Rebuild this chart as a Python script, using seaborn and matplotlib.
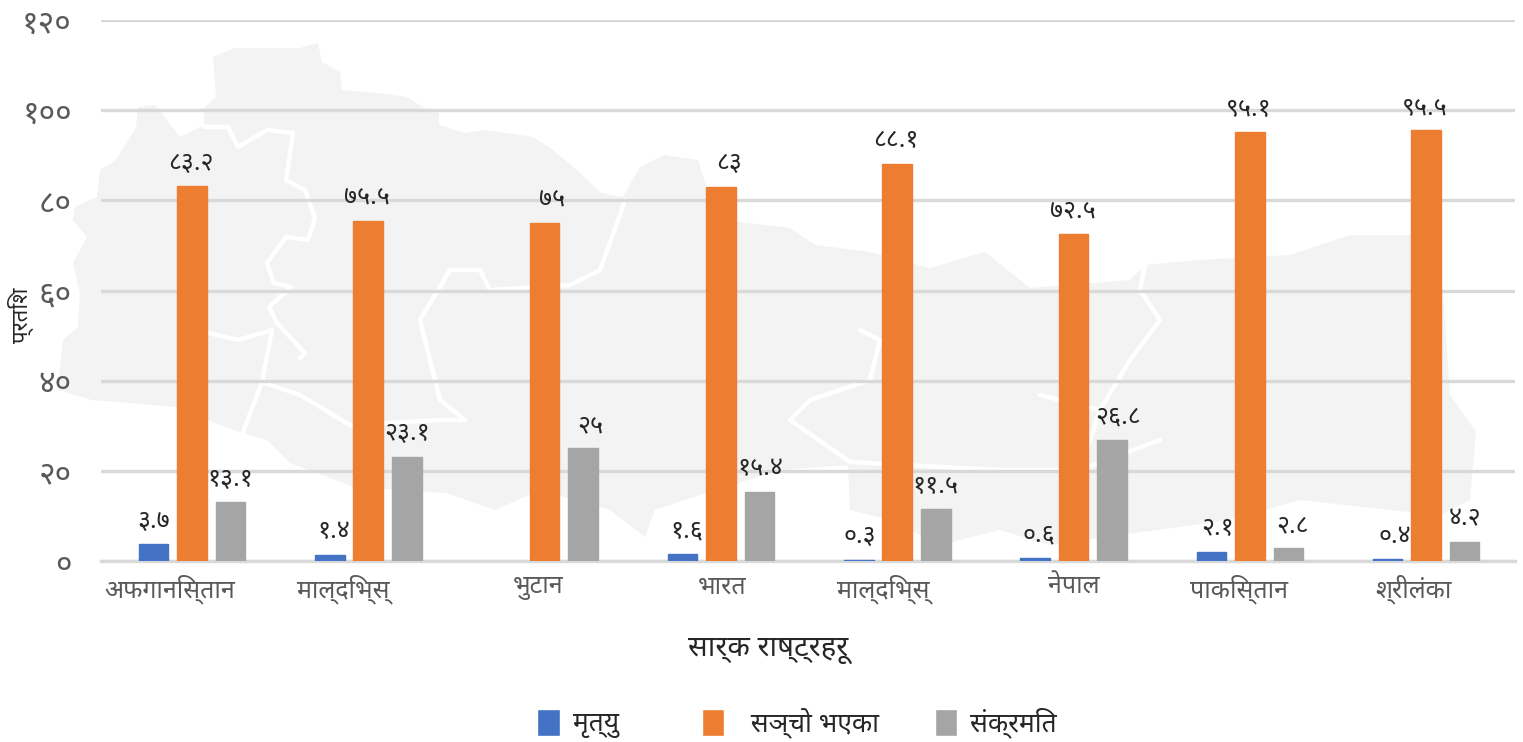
import numpy as np
import pandas as pd
import matplotlib
matplotlib.use('Agg')
import matplotlib.pyplot as plt
from matplotlib.patches import Polygon
import seaborn as sns

# Dados
paises = ['अफगानिस्तान', 'माल्दिभ्स्', 'भुटान', 'भारत', 'माल्दिभ्स्', 'नेपाल', 'पाकिस्तान', 'श्रीलंका']
mrityu = [3.7, 1.4, np.nan, 1.6, 0.3, 0.6, 2.1, 0.4]
sancho = [83.2, 75.5, 75, 83, 88.1, 72.5, 95.1, 95.5]
sankramit = [13.1, 23.1, 25, 15.4, 11.5, 26.8, 2.8, 4.2]
rotulos_mrityu = ['३.७', '१.४', '', '१.६', '०.३', '०.६', '२.१', '०.४']
rotulos_sancho = ['८३.२', '७५.५', '७५', '८३', '८८.१', '७२.५', '९५.१', '९५.५']
rotulos_sankramit = ['१३.१', '२३.१', '२५', '१५.४', '११.५', '२६.८', '२.८', '४.२']
serie_nomes = ['मृत्यु', 'सञ्चो भएका', 'संक्रमित']
legenda_txt = ['मृत्यु    ', '  सञ्चो भएका', 'संक्रमित']
cores = ['#4472C4', '#ED7D31', '#A5A5A5']
yticks_lbl = ['०', '२०', '४०', '६०', '८०', '१००', '१२०']

# Ajustes finos de layout (pixels)
dx_rotulos = [[0, 4, 0, 4, 1, 4, 6, 7],
              [-1, -1, 7, 8, -1, -1, -1, -1],
              [0, 0, 7, 1, 0, 6, 4, 0]]
desloc_xticks = [-22, -25, -6, 1, -14, 0, -11, -13]

# Silhueta do mapa de fundo (pixels da imagem)
mapa = [(213, 57), (235, 48), (265, 48), (300, 48), (318, 43), (322, 62), (340, 72), (342, 90), (378, 93),
        (407, 97), (424, 108), (439, 113), (439, 125), (465, 133), (485, 130), (533, 137), (553, 150),
        (577, 170), (601, 193), (623, 197), (640, 167), (664, 155), (698, 160), (715, 215), (740, 222),
        (790, 228), (815, 245), (870, 252), (930, 268), (985, 252), (1030, 288), (1130, 280), (1145, 265),
        (1200, 260), (1290, 255), (1350, 235), (1415, 235), (1440, 250), (1450, 395), (1476, 432),
        (1470, 500), (1440, 515), (1390, 510), (1300, 500), (1230, 520), (1120, 535), (1050, 545), (1000, 530),
        (940, 545), (890, 520), (850, 510), (848, 465), (780, 470), (700, 495), (655, 510), (645, 537),
        (610, 510), (540, 490), (495, 510), (446, 493), (354, 487), (290, 463), (267, 440), (233, 430),
        (175, 407), (131, 403), (92, 400), (58, 390), (60, 367), (63, 340), (78, 327), (80, 293), (73, 263),
        (87, 237), (73, 220), (75, 207), (97, 197), (100, 170), (116, 160), (136, 128), (138, 107),
        (155, 105), (180, 137), (204, 125), (204, 108), (216, 97)]
fronteiras = [
    [(204, 127), (228, 127), (238, 147), (267, 130), (293, 133), (286, 180), (305, 190), (315, 218), (308, 240),
     (286, 237), (267, 263), (274, 283), (291, 287), (269, 307), (277, 323), (305, 353), (300, 358)],
    [(208, 333), (238, 340), (272, 330), (262, 382), (240, 440)],
    [(262, 382), (300, 395), (350, 425), (440, 420), (465, 420)],
    [(625, 200), (620, 215), (600, 270), (570, 285), (490, 290), (480, 270), (450, 270), (420, 320), (440, 400), (465, 420)],
    [(860, 330), (880, 340), (870, 380), (810, 400), (790, 420), (850, 462), (1000, 470), (1080, 470), (1160, 440)],
    [(1100, 410), (1130, 360), (1160, 320), (1140, 290), (1145, 265)],
    [(1080, 470), (1100, 410), (1040, 395)],
]

df = pd.DataFrame({
    'pos': list(range(len(paises))) * 3,
    'valor': mrityu + sancho + sankramit,
    'serie': np.repeat(serie_nomes, len(paises)),
})

sns.set_theme(style='white')
plt.rcParams['font.family'] = ['Noto Sans Devanagari', 'Mukta', 'Hind', 'Annapurna SIL', 'DejaVu Sans']

L, H = 1523, 742
fig = plt.figure(figsize=(L / 100, H / 100), dpi=100)
ax = fig.add_axes([101 / L, 1 - 561 / H, (1515 - 101) / L, (561 - 20) / H])
ax.patch.set_alpha(0)

def px(pontos):
    return [(x / L, 1 - y / H) for x, y in pontos]

# mapa de fundo
fig.add_artist(Polygon(px(mapa), closed=True, facecolor='#F3F3F3', edgecolor='none',
                       transform=fig.transFigure, zorder=-5))
for f in fronteiras:
    a = np.array(px(f))
    fig.add_artist(plt.Line2D(a[:, 0], a[:, 1], color='white', lw=3.2, transform=fig.transFigure, zorder=-4))

sns.barplot(data=df, x='pos', y='valor', hue='serie', hue_order=serie_nomes, palette=cores,
            width=0.655, gap=0.23, saturation=1, legend=True, errorbar=None, ax=ax, zorder=3)

ax.set_xlim(-0.516, 7.504)
ax.set_ylim(0, 120)
ax.set_yticks(range(0, 121, 20))
ax.set_yticklabels(yticks_lbl, fontsize=23, color='#595959')
ax.set_xticks(np.arange(8) + np.array(desloc_xticks) / 176.3)
ax.set_xticklabels(paises, fontsize=18, color='#595959')
ax.tick_params(axis='both', length=0)
ax.tick_params(axis='y', pad=21)
ax.tick_params(axis='x', pad=10)
ax.yaxis.grid(True, color='#D9D9D9', lw=2.4)
ax.set_axisbelow(True)
for lado in ['top', 'right', 'left']:
    ax.spines[lado].set_visible(False)
ax.spines['bottom'].set_color('#D9D9D9')
ax.spines['bottom'].set_linewidth(2.4)
ax.set_xlabel('')
ax.set_ylabel('')

# rotulos de valor
rotulos = [rotulos_mrityu, rotulos_sancho, rotulos_sankramit]
for s, barras in enumerate(ax.containers):
    for b in barras:
        # borda da mesma cor para as barras muito baixas continuarem visiveis
        b.set_edgecolor(cores[s])
        b.set_linewidth(1.0)
        if np.isnan(b.get_height()):
            continue
        xc = b.get_x() + b.get_width() / 2
        i = int(round(xc))
        ax.annotate(rotulos[s][i], xy=(xc, b.get_height()), xytext=(dx_rotulos[s][i], 23),
                    textcoords='offset pixels', ha='center', va='center', fontsize=18,
                    color='#262626', zorder=5)

fig.text(768 / L, 1 - 650 / H, 'सार्क राष्ट्रहरू', fontsize=21, color='#262626', ha='center', va='center')
fig.text(21 / L, 1 - 315 / H, 'प्रतिश', fontsize=16, color='#262626', rotation=90, ha='center', va='center')

ax.legend_.remove()
alcas, _ = ax.get_legend_handles_labels()
fig.legend(alcas, legenda_txt, loc='center', bbox_to_anchor=(797 / L, 1 - 723 / H), ncol=3, frameon=False,
           fontsize=19, handlelength=0.85, handleheight=1.2, handletextpad=0.5, columnspacing=2.1,
           labelcolor='#262626')

fig.savefig('out.png', dpi=100)
